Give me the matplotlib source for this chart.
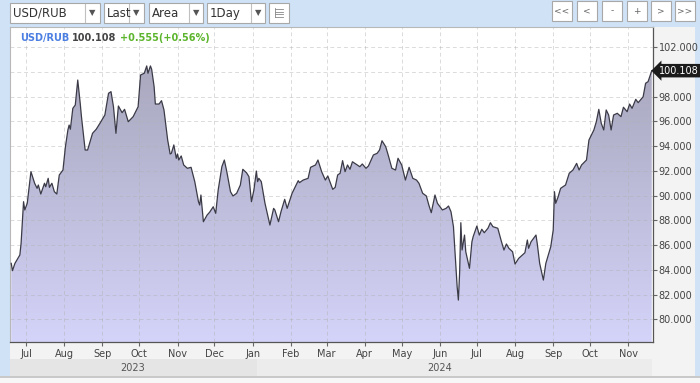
import matplotlib
matplotlib.use('Agg')
import matplotlib.pyplot as plt
import matplotlib.dates as mdates
from matplotlib.patches import Rectangle
from matplotlib.colors import LinearSegmentedColormap
import numpy as np
import pandas as pd

# ---------------- data ----------------
dates = [
    "2023-06-19", "2023-06-20", "2023-06-22", "2023-06-26", "2023-06-27", "2023-06-29", "2023-06-30",
    "2023-07-02", "2023-07-05", "2023-07-08", "2023-07-10", "2023-07-11", "2023-07-13", "2023-07-16",
    "2023-07-17", "2023-07-19", "2023-07-20", "2023-07-22", "2023-07-24", "2023-07-26", "2023-07-28",
    "2023-07-31", "2023-08-02", "2023-08-04", "2023-08-05", "2023-08-06", "2023-08-08", "2023-08-10",
    "2023-08-12", "2023-08-14", "2023-08-15", "2023-08-18", "2023-08-20", "2023-08-24", "2023-08-27",
    "2023-08-30", "2023-09-03", "2023-09-06", "2023-09-08", "2023-09-10", "2023-09-12",
    "2023-09-14", "2023-09-17", "2023-09-19", "2023-09-22", "2023-09-26", "2023-09-30", "2023-10-02",
    "2023-10-05", "2023-10-07", "2023-10-08", "2023-10-10", "2023-10-11", "2023-10-13", "2023-10-14",
    "2023-10-17", "2023-10-19", "2023-10-21", "2023-10-24", "2023-10-26", "2023-10-27", "2023-10-29",
    "2023-10-31", "2023-11-01", "2023-11-02", "2023-11-04", "2023-11-06", "2023-11-09", "2023-11-12",
    "2023-11-15", "2023-11-18", "2023-11-19", "2023-11-20", "2023-11-22", "2023-11-25", "2023-11-27",
    "2023-11-30", "2023-12-02", "2023-12-04", "2023-12-07",
    "2023-12-09", "2023-12-11", "2023-12-14", "2023-12-16", "2023-12-19", "2023-12-22", "2023-12-24",
    "2023-12-27", "2023-12-29", "2023-12-31", "2024-01-02", "2024-01-04", "2024-01-05", "2024-01-06",
    "2024-01-08", "2024-01-11", "2024-01-15", "2024-01-18", "2024-01-19", "2024-01-22", "2024-01-24",
    "2024-01-27", "2024-01-29", "2024-02-02", "2024-02-04", "2024-02-07", "2024-02-08", "2024-02-11",
    "2024-02-15", "2024-02-17", "2024-02-21", "2024-02-23", "2024-02-26", "2024-02-29", "2024-03-02",
    "2024-03-06", "2024-03-08", "2024-03-10", "2024-03-12", "2024-03-14", "2024-03-16", "2024-03-18",
    "2024-03-20", "2024-03-22", "2024-03-26", "2024-03-28", "2024-03-30", "2024-04-02", "2024-04-04",
    "2024-04-08", "2024-04-11", "2024-04-13", "2024-04-15", "2024-04-18", "2024-04-20", "2024-04-23",
    "2024-04-26", "2024-04-28", "2024-05-01", "2024-05-04", "2024-05-07", "2024-05-10", "2024-05-13",
    "2024-05-15", "2024-05-18", "2024-05-21", "2024-05-23", "2024-05-25", "2024-05-28", "2024-05-30",
    "2024-06-03", "2024-06-06", "2024-06-08", "2024-06-10", "2024-06-12", "2024-06-14", "2024-06-15",
    "2024-06-16", "2024-06-17", "2024-06-18", "2024-06-19", "2024-06-21", "2024-06-22", "2024-06-25",
    "2024-06-27", "2024-06-28", "2024-07-01", "2024-07-03", "2024-07-05", "2024-07-07", "2024-07-10",
    "2024-07-12", "2024-07-14", "2024-07-18", "2024-07-21", "2024-07-23", "2024-07-25", "2024-07-27",
    "2024-07-30", "2024-08-01", "2024-08-04", "2024-08-07", "2024-08-09", "2024-08-11", "2024-08-12",
    "2024-08-14", "2024-08-18", "2024-08-19",
    "2024-08-21", "2024-08-24", "2024-08-26", "2024-08-30", "2024-09-01", "2024-09-02", "2024-09-03",
    "2024-09-05", "2024-09-07", "2024-09-11", "2024-09-14", "2024-09-17", "2024-09-20", "2024-09-22",
    "2024-09-24", "2024-09-28", "2024-09-30", "2024-10-04", "2024-10-06", "2024-10-08", "2024-10-10",
    "2024-10-12", "2024-10-14", "2024-10-16", "2024-10-18", "2024-10-20", "2024-10-23", "2024-10-26",
    "2024-10-28", "2024-10-31", "2024-11-02", "2024-11-04", "2024-11-07", "2024-11-09", "2024-11-13",
    "2024-11-15", "2024-11-17", "2024-11-20",
]
rates = [
    84.52, 83.93, 84.52, 85.20, 86.14, 89.51, 88.84,
    89.38, 91.94, 91.00, 90.59, 90.86, 90.13, 91.00,
    90.72, 91.40, 90.67, 91.00, 90.32, 90.13, 91.67,
    92.07, 93.96, 95.31, 95.71, 95.37, 97.06, 97.33,
    99.35, 97.47, 96.39, 93.69, 93.69, 95.04, 95.37,
    95.85, 96.52, 98.28, 98.41, 97.19, 95.04,
    97.25, 96.71, 96.98, 95.98, 96.39, 97.19, 99.76,
    99.90, 100.49, 99.90, 100.49, 100.22, 98.81, 97.41,
    97.41, 97.68, 96.93, 94.50, 93.37, 93.42, 94.10,
    93.02, 93.37, 92.88, 93.21, 92.48, 92.21, 92.29,
    91.13, 89.51, 89.24, 90.05, 87.89, 88.43, 88.65,
    89.10, 88.57, 90.45, 92.34,
    92.88, 91.94, 90.32, 89.97, 90.19, 90.86, 92.13,
    91.85, 91.53, 89.51, 90.45, 91.99, 91.13, 91.40,
    91.13, 89.38, 87.62, 88.97, 88.84, 87.89, 88.70,
    89.70, 88.97, 90.19, 90.59, 91.21, 91.05, 91.26,
    91.40, 92.29, 92.48, 92.88, 91.94, 91.26, 91.59,
    90.51, 90.67, 91.67, 91.81, 92.83, 91.94, 92.48,
    92.13, 92.74, 92.48, 92.34, 92.56, 92.21, 92.40,
    93.29, 93.42, 93.69, 94.44, 93.96, 93.29, 92.21,
    92.07, 93.02, 92.48, 91.26, 92.29, 91.40, 91.26,
    91.00, 90.19, 89.97, 89.24, 88.62, 90.05, 89.38,
    88.84, 88.97, 89.16, 88.70, 87.49, 84.25, 82.63,
    81.55, 83.72, 87.81, 85.60, 86.81, 85.46, 84.12,
    86.27, 86.68, 87.54, 86.81, 87.28, 87.00, 87.36,
    87.81, 87.49, 87.36, 86.27, 85.60, 86.09, 85.74,
    85.46, 84.47, 84.93, 85.20, 85.38, 86.41, 85.74,
    86.27, 86.81, 86.14,
    84.52, 83.17, 84.52, 85.87, 87.22, 90.32, 89.38,
    89.91, 90.59, 90.86, 91.81, 92.07, 92.61, 92.07,
    92.48, 92.88, 94.50, 95.31, 95.98, 96.98, 95.85,
    95.31, 96.93, 96.52, 95.31, 96.52, 96.66, 96.39,
    97.15, 96.79, 97.41, 97.06, 97.79, 97.52, 98.00,
    99.09, 99.22, 100.108,
]
y_ticks = [80, 82, 84, 86, 88, 90, 92, 94, 96, 98, 100, 102]
year_labels = ["2023", "2024"]
symbol = "USD/RUB"
last_text = "100.108"
change_text = "+0.555(+0.56%)"
dropdowns = ["USD/RUB", "Last", "Area", "1Day"]
nav_buttons = ["<<", "<", "-", "+", ">", ">>"]

# ---------------- layout ----------------
W, H = 700, 383
fig = plt.figure(figsize=(W / 100, H / 100), dpi=100)
fig.patch.set_facecolor('#cfe2f6')


def rect(x0, y0, x1, y1, fc, ec='none', lw=0.0, z=-5):
    r = Rectangle((x0 / W, 1 - y1 / H), (x1 - x0) / W, (y1 - y0) / H,
                  transform=fig.transFigure, facecolor=fc, edgecolor=ec,
                  linewidth=lw, zorder=z)
    fig.add_artist(r)
    return r


def ftext(x, y, s, **kw):
    return fig.text(x / W, 1 - y / H, s, **kw)


# panels around the plot
rect(653, 27, 695, 342, '#f3f3f3')
rect(10, 342, 695, 359, '#f3f3f3')
rect(10, 359, 257, 376, '#e5e5e5')
rect(257, 359, 652, 376, '#ececec')
rect(652, 359, 695, 376, '#f3f3f3')
rect(0, 376, 700, 378, '#c9c9c9')
rect(0, 378, 700, 383, '#f7f7f7')

ax = fig.add_axes([10 / W, 1 - 342 / H, 643 / W, 315 / H])
ax.set_facecolor('white')

x = pd.to_datetime(dates)
xn = mdates.date2num(x)
ymin, ymax = 78.16, 103.64
xmin = mdates.date2num(pd.Timestamp("2023-06-18"))
xmax = mdates.date2num(pd.Timestamp("2024-11-21"))

# gradient area
poly = ax.fill_between(xn, rates, ymin, facecolor='none', edgecolor='none')
cmap = LinearSegmentedColormap.from_list('g', ['#a3a2b6', '#d4d3f9'])
grad = np.linspace(0, 1, 256).reshape(-1, 1)
im = ax.imshow(grad, extent=[xmin, xmax, ymin, ymax], origin='upper',
               aspect='auto', cmap=cmap, zorder=1)
path = poly.get_paths()[0]
im.set_clip_path(path, transform=ax.transData)
ax.plot(xn, rates, color='#3b3b48', lw=0.9, zorder=3)

ax.set_xlim(xmin, xmax)
ax.set_ylim(ymin, ymax)

# axes styling
ax.xaxis.set_major_locator(mdates.MonthLocator())
ax.xaxis.set_major_formatter(mdates.DateFormatter('%b'))
ax.yaxis.tick_right()
ax.set_yticks(y_ticks)
# the 100.000 label sits under the last-price tag in the reference
ax.set_yticklabels(["" if v == 100 else f"{v:.3f}" for v in y_ticks])
ax.tick_params(axis='x', direction='out', length=3, width=0.8, colors='#666666',
               labelsize=7, labelcolor='#444444', pad=2)
ax.tick_params(axis='y', direction='out', length=3, width=0.8, colors='#666666',
               labelsize=7, labelcolor='#444444', pad=1)
for lab in ax.get_xticklabels() + ax.get_yticklabels():
    lab.set_family('DejaVu Sans')

ax.grid(True, color='#b0b0b0', alpha=0.45, linestyle=(0, (4, 3)), lw=0.7, zorder=4)
ax.set_axisbelow(False)
for s in ['top', 'left']:
    ax.spines[s].set_color('#b8b8b8')
    ax.spines[s].set_linewidth(0.8)
for s in ['bottom', 'right']:
    ax.spines[s].set_color('#555555')
    ax.spines[s].set_linewidth(0.9)

# last price tag
ax.annotate(last_text, xy=(1, rates[-1]), xycoords=('axes fraction', 'data'),
            xytext=(4, 0), textcoords='offset points', ha='left', va='center',
            color='white', fontsize=7, annotation_clip=False, zorder=10,
            bbox=dict(boxstyle='larrow,pad=0.18', fc='#1c1c1c', ec='none'))

# legend line inside plot, laid out sequentially
renderer = fig.canvas.get_renderer()
cur = 20
for s, col in [(symbol, '#4c7fe2'), (last_text, '#444444'), (change_text, '#5cb52c')]:
    t = ftext(cur, 38, s, color=col, fontsize=7, fontweight='bold', va='center', ha='left')
    bb = t.get_window_extent(renderer=renderer)
    cur += bb.width + 3

# year labels
ftext(133, 368, year_labels[0], color='#555555', fontsize=7, ha='center', va='center')
ftext(440, 368, year_labels[1], color='#555555', fontsize=7, ha='center', va='center')

# toolbar dropdowns
dd_boxes = [(10, 100, 85), (104, 144, 129), (149, 203, 189), (207, 265, 251)]
for label, (x0, x1, sep) in zip(dropdowns, dd_boxes):
    rect(x0, 3, x1, 23, 'white', ec='#a8a8a8', lw=0.8, z=1)
    fig.add_artist(plt.Line2D([sep / W, sep / W], [1 - 4 / H, 1 - 22 / H],
                              transform=fig.transFigure, color='#c0c0c0', lw=0.8, zorder=2))
    ftext(x0 + 3, 13.5, label, color='#333333', fontsize=8.5, va='center', ha='left', zorder=2)
    ftext((sep + x1) / 2, 13, '\u25bc', color='#555555', fontsize=6, va='center', ha='center', zorder=2)

# icon button
rect(269, 3, 289, 23, 'white', ec='#a8a8a8', lw=0.8, z=1)
for yy in [9, 11.5, 14, 16.5]:
    fig.add_artist(plt.Line2D([275 / W, 283 / W], [1 - yy / H, 1 - yy / H],
                              transform=fig.transFigure, color='#888888', lw=0.6, zorder=2))
fig.add_artist(plt.Line2D([275 / W, 275 / W], [1 - 8 / H, 1 - 17 / H],
                          transform=fig.transFigure, color='#888888', lw=0.6, zorder=2))

# nav buttons
nav_x = [552, 577, 602, 627, 651, 675]
for label, x0 in zip(nav_buttons, nav_x):
    rect(x0, 1, x0 + 20, 21, 'white', ec='#a8a8a8', lw=0.8, z=1)
    ftext(x0 + 10, 11, label, color='#666666', fontsize=6.5, va='center', ha='center', zorder=2)

fig.savefig('out.png', dpi=100, facecolor=fig.get_facecolor())
